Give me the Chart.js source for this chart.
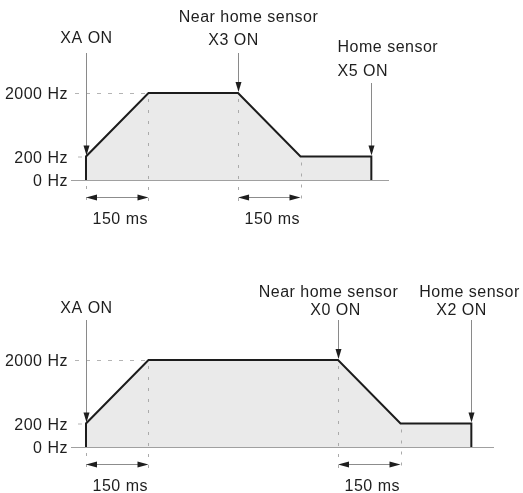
<!DOCTYPE html>
<html>
<head>
<meta charset="utf-8">
<script src="https://cdn.jsdelivr.net/npm/chart.js@4"></script>
<style>
  body { margin: 0; background: #fff; }
  #wrap { position: relative; width: 523px; height: 493px; }
  .box { position: absolute; left: 0; width: 523px; }
</style>
</head>
<body>
<div id="wrap">
  <div class="box" style="top:0;height:246px"><canvas id="chartTop"></canvas></div>
  <div class="box" style="top:246px;height:247px"><canvas id="chartBottom"></canvas></div>
</div>
<script>
// y axis ticks
var freqTicks = [0, 200, 2000];
var freqLabels = ['0 Hz', '200 Hz', '2000 Hz'];

// top profile (ms, Hz)
var topTimes = [0, 0, 150, 365, 515, 685, 685];
var topFreq  = [0, 200, 2000, 2000, 200, 200, 0];
var topMarkTime = [0, 365, 685];
var topMarkHz   = [200, 2000, 200];
var topMarkText = [['XA ON'], ['Near home sensor', 'X3 ON'], ['Home sensor', 'X5 ON']];
var topSpans = [[0, 150], [365, 515]];

// bottom profile (ms, Hz)
var bottomTimes = [0, 0, 150, 605, 755, 925, 925];
var bottomFreq  = [0, 200, 2000, 2000, 200, 200, 0];
var bottomMarkTime = [0, 605, 925];
var bottomMarkHz   = [200, 2000, 200];
var bottomMarkText = [['XA ON'], ['Near home sensor', 'X0 ON'], ['Home sensor', 'X2 ON']];
var bottomSpans = [[0, 150], [605, 755]];

var spanText = '150 ms';

// the drawing is not to scale: 200 Hz sits about a quarter of the way up
var freqBreaks = [[0, 0], [200, 0.27], [2000, 1]];

class SpeedScale extends Chart.LinearScale {
  getPixelForValue(value) {
    var br = freqBreaks, f = 0;
    for (var i = 1; i < br.length; i++) {
      if (value <= br[i][0] || i === br.length - 1) {
        var a = br[i - 1], b = br[i];
        f = a[1] + (value - a[0]) / (b[0] - a[0]) * (b[1] - a[1]);
        break;
      }
    }
    return this.getPixelForDecimal(f);
  }
  getValueForPixel(pixel) {
    var f = this.getDecimalForPixel(pixel), br = freqBreaks;
    for (var i = 1; i < br.length; i++) {
      if (f <= br[i][1] || i === br.length - 1) {
        var a = br[i - 1], b = br[i];
        return a[0] + (f - a[1]) / (b[1] - a[1]) * (b[0] - a[0]);
      }
    }
  }
}
SpeedScale.id = 'speed';
SpeedScale.defaults = Chart.LinearScale.defaults;
Chart.register(SpeedScale);

var FONT = '16px "Liberation Sans", Arial, sans-serif';
var INK = '#1e1e1e';

function arrowHead(ctx, x, y, dx, dy, len, half) {
  // tip at (x,y), pointing along (dx,dy)
  ctx.beginPath();
  ctx.moveTo(x, y);
  ctx.lineTo(x - dx * len - dy * half, y - dy * len - dx * half);
  ctx.lineTo(x - dx * len + dy * half, y - dy * len + dx * half);
  ctx.closePath();
  ctx.fill();
}

function dashed(ctx, x1, y1, x2, y2, pattern, color) {
  ctx.save();
  ctx.strokeStyle = color || '#b4b4b4';
  ctx.lineWidth = 1;
  ctx.setLineDash(pattern);
  ctx.beginPath();
  ctx.moveTo(x1, y1);
  ctx.lineTo(x2, y2);
  ctx.stroke();
  ctx.restore();
}

var notesPlugin = {
  id: 'profileNotes',
  beforeDraw: function (chart) {
    chart.ctx.letterSpacing = '0.5px';
  },
  afterDatasetsDraw: function (chart, args, o) {
    var ctx = chart.ctx, xs = chart.scales.x, ys = chart.scales.y;
    var base = ys.getPixelForValue(0);
    var times = o.times;
    ctx.save();
    ctx.letterSpacing = '0.5px';

    // guide lines
    var yTop = ys.getPixelForValue(2000), yLow = ys.getPixelForValue(200);
    dashed(ctx, xs.left + 4, yTop + 0.5, xs.getPixelForValue(times[2]) - 3, yTop + 0.5, [4, 7]);
    dashed(ctx, xs.left + 7, yLow + 0.5, xs.getPixelForValue(0) - 2, yLow + 0.5, [4, 7]);
    [[times[0], 0], [times[2], 2000], [times[3], 2000], [times[4], 200]].forEach(function (g) {
      var gx = Math.round(xs.getPixelForValue(g[0])) + 0.5;
      dashed(ctx, gx, ys.getPixelForValue(g[1]) + 6, gx, base + 22, [3, 8], '#aaaaaa');
    });

    // dimension arrows + text
    ctx.font = FONT;
    ctx.textAlign = 'center';
    ctx.textBaseline = 'alphabetic';
    o.spans.forEach(function (s) {
      var a = xs.getPixelForValue(s[0]), b = xs.getPixelForValue(s[1]);
      var y = base + 17;
      ctx.strokeStyle = '#8c8c8c';
      ctx.lineWidth = 1;
      ctx.beginPath();
      ctx.moveTo(a + 6, y + 0.5);
      ctx.lineTo(b - 6, y + 0.5);
      ctx.stroke();
      ctx.fillStyle = INK;
      arrowHead(ctx, a, y + 0.5, -1, 0, 11, 3);
      arrowHead(ctx, b, y + 0.5, 1, 0, 11, 3);
      ctx.fillText(spanText, (a + b) / 2 + 3, base + 44);
    });

    // event arrows with their labels
    o.markTime.forEach(function (t, i) {
      var x = Math.round(xs.getPixelForValue(t)) + 0.5;
      var tip = ys.getPixelForValue(o.markHz[i]) - 1;
      var lay = o.layout[i];
      ctx.strokeStyle = '#8a8a8a';
      ctx.lineWidth = 1;
      ctx.beginPath();
      ctx.moveTo(x, lay.top);
      ctx.lineTo(x, tip - 6);
      ctx.stroke();
      ctx.fillStyle = INK;
      arrowHead(ctx, x, tip, 0, 1, 10, 3);
      ctx.textAlign = lay.align || 'center';
      o.markText[i].forEach(function (s, j) {
        ctx.fillText(s, x + lay.dx[j], lay.base[j]);
      });
    });
    ctx.restore();
  }
};

function makeChart(id, times, freq, xMax, padRight, padTop, padBottom, notes) {
  var pts = times.map(function (t, i) { return { x: t, y: freq[i] }; });
  notes.times = times;
  notes.freq = freq;
  return new Chart(document.getElementById(id), {
    type: 'line',
    data: {
      datasets: [{
        data: pts,
        borderColor: '#1c1c1c',
        borderWidth: 2,
        backgroundColor: '#eaeaea',
        fill: 'origin',
        pointRadius: 0,
        tension: 0,
        clip: false
      }]
    },
    options: {
      animation: false,
      responsive: true,
      maintainAspectRatio: false,
      events: [],
      layout: { padding: { left: 0, right: padRight, top: padTop, bottom: padBottom } },
      plugins: { legend: { display: false }, tooltip: { enabled: false }, profileNotes: notes },
      scales: {
        x: {
          type: 'linear', min: -36, max: xMax,
          ticks: { display: false },
          grid: { display: false, drawTicks: false },
          border: { display: true, color: '#a0a0a0', width: 1 },
          afterFit: function (s) { s.height = 0; }
        },
        y: {
          type: 'speed', min: 0, max: 2000,
          afterBuildTicks: function (s) { s.ticks = freqTicks.map(function (v) { return { value: v }; }); },
          afterFit: function (s) { s.width = 71; },
          ticks: {
            padding: 3,
            labelOffset: 2,
            color: INK,
            font: { family: '"Liberation Sans", Arial, sans-serif', size: 16 },
            callback: function (v) { return freqLabels[freqTicks.indexOf(v)]; }
          },
          grid: { display: false, drawTicks: false },
          border: { display: false }
        }
      }
    },
    plugins: [notesPlugin]
  });
}

makeChart('chartTop', topTimes, topFreq, 725, 135, 93, 66, {
  markTime: topMarkTime, markHz: topMarkHz, markText: topMarkText, spans: topSpans,
  layout: [
    { top: 53, dx: [0], base: [43] },
    { top: 53, dx: [10, -5], base: [22, 45] },
    { top: 83, dx: [-34, -34], base: [52, 76], align: 'left' }
  ]
});

makeChart('chartBottom', bottomTimes, bottomFreq, 977, 30, 114, 46, {
  markTime: bottomMarkTime, markHz: bottomMarkHz, markText: bottomMarkText, spans: bottomSpans,
  layout: [
    { top: 74, dx: [0], base: [67] },
    { top: 74, dx: [-10, -3], base: [51, 69] },
    { top: 74, dx: [-2, -10], base: [51, 69] }
  ]
});
</script>
</body>
</html>
